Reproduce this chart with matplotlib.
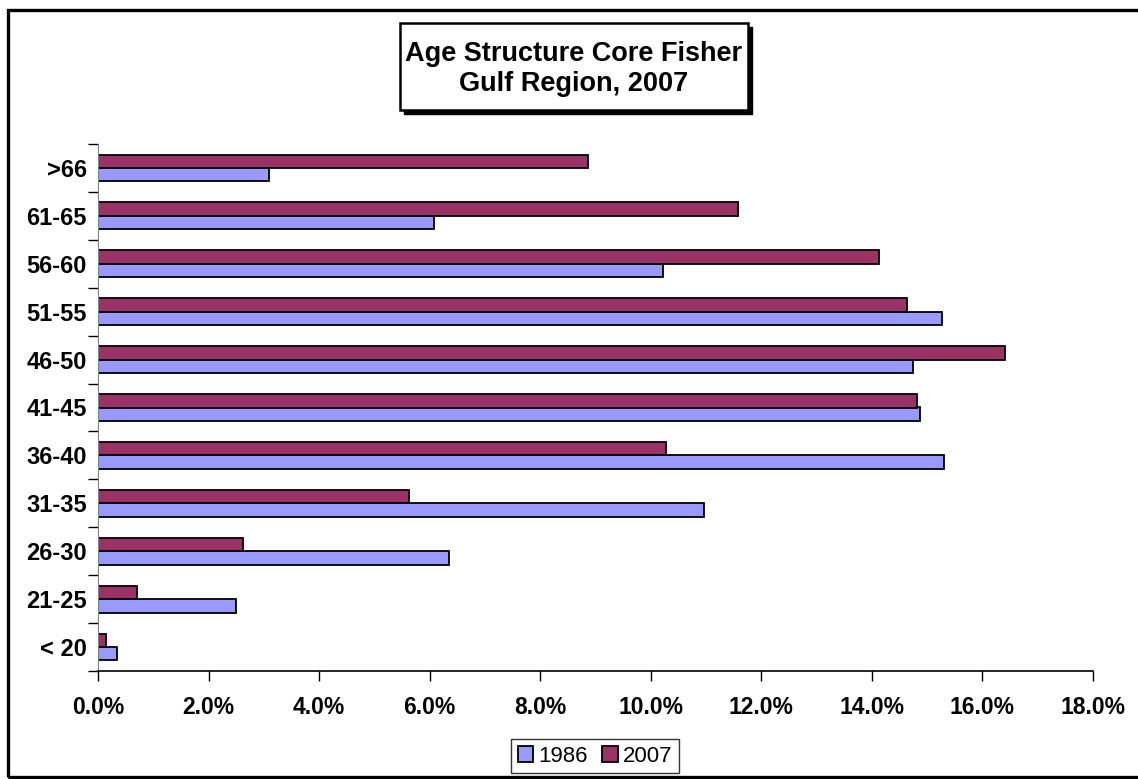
import numpy as np
import matplotlib.pyplot as plt
from matplotlib.patches import Rectangle
from matplotlib.ticker import FuncFormatter, FixedLocator

# Age groups (bottom to top) and share of core fishers (%)
ages = ['< 20', '21-25', '26-30', '31-35', '36-40', '41-45',
        '46-50', '51-55', '56-60', '61-65', '>66']
pct_1986 = [0.34, 2.50, 6.35, 10.97, 15.31, 14.87, 14.75, 15.27, 10.23, 6.08, 3.10]
pct_2007 = [0.14, 0.70, 2.63, 5.63, 10.27, 14.82, 16.41, 14.64, 14.12, 11.57, 8.87]
x_ticks = np.arange(0, 20, 2)

plt.rcParams['font.family'] = ['Liberation Sans', 'DejaVu Sans']

fig = plt.figure(figsize=(11.38, 7.79), dpi=100)
ax = fig.add_axes([98 / 1138, 1 - 671 / 779, 995 / 1138, 527 / 779])

y = np.arange(len(ages))
h = 0.28
ax.barh(y - h / 2, pct_1986, height=h, color='#9999FF', edgecolor='black',
        linewidth=1.3, label='1986')
ax.barh(y + h / 2, pct_2007, height=h, color='#993366', edgecolor='black',
        linewidth=1.3, label='2007')

ax.set_xlim(0, 18)
ax.set_ylim(-0.5, len(ages) - 0.5)
ax.set_xticks(x_ticks)
ax.xaxis.set_major_formatter(FuncFormatter(lambda v, p: f'{v:.1f}%'))
ax.set_yticks(y)
ax.set_yticklabels(ages)
ax.yaxis.set_minor_locator(FixedLocator(np.arange(-0.5, len(ages), 1)))
ax.tick_params(axis='y', which='major', length=0, pad=8, labelsize=17)
ax.tick_params(axis='y', which='minor', length=7, width=1, direction='out')
ax.tick_params(axis='x', length=7, width=1, direction='out', pad=11, labelsize=16.5)
for lab in ax.get_xticklabels() + ax.get_yticklabels():
    lab.set_fontweight('bold')

ax.spines['top'].set_visible(False)
ax.spines['right'].set_visible(False)
ax.spines['left'].set_color('#808080')
ax.spines['bottom'].set_linewidth(1.2)

# outer frame
fig.patches.append(Rectangle((8 / 1138, 2 / 779), 1.05, 1 - 12 / 779,
                             transform=fig.transFigure, fill=False,
                             edgecolor='black', linewidth=2.4))

# title box with shadow
bx, by, bw, bh = 400 / 1138, 1 - 110 / 779, 348 / 1138, 87 / 779
fig.patches.append(Rectangle((bx + 4 / 1138, by - 4 / 779), bw, bh,
                             transform=fig.transFigure, facecolor='black',
                             edgecolor='black'))
fig.patches.append(Rectangle((bx, by), bw, bh, transform=fig.transFigure,
                             facecolor='white', edgecolor='black', linewidth=1.8))
fig.text(bx + bw / 2, by + bh / 2 - 2 / 779, 'Age Structure Core Fisher\nGulf Region, 2007',
         ha='center', va='center', fontsize=19.5, fontweight='bold',
         linespacing=1.2)

leg = ax.legend(loc='center', bbox_to_anchor=(595 / 1138, 1 - 756 / 779),
                bbox_transform=fig.transFigure, ncol=2, fontsize=16,
                frameon=True, fancybox=False, handlelength=0.7,
                handleheight=0.7, handletextpad=0.22, columnspacing=0.65,
                borderpad=0.3, borderaxespad=0)
leg.get_frame().set_edgecolor('black')
leg.get_frame().set_linewidth(1.0)

fig.savefig('out.png', dpi=100)
